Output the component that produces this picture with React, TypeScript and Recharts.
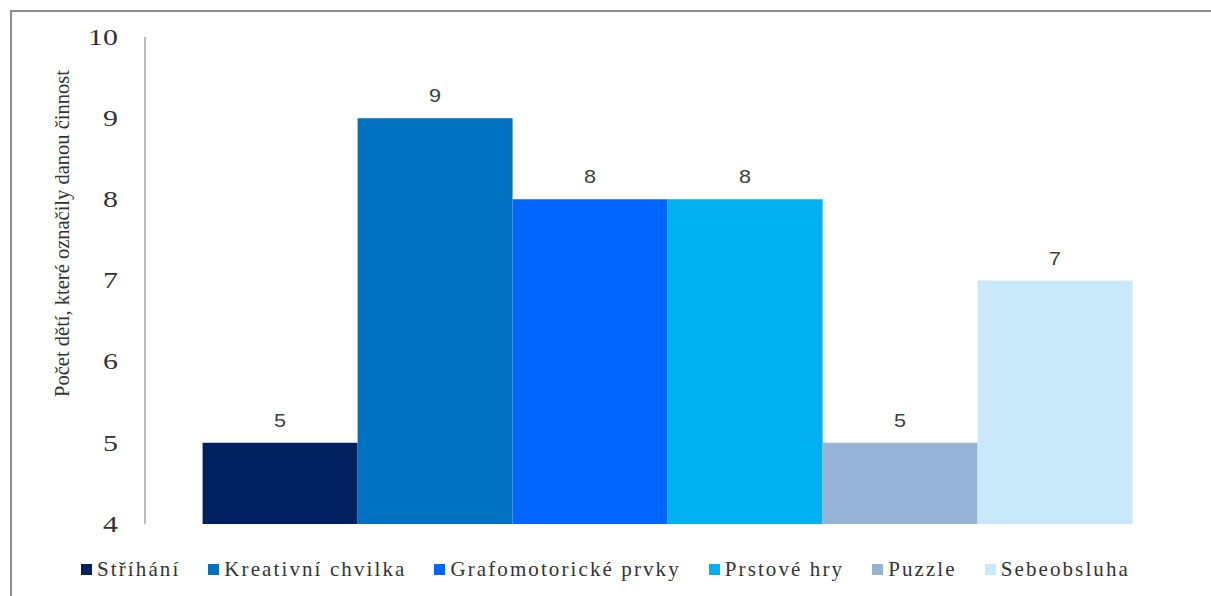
import React from "react"
import { BarChart, Bar, XAxis, YAxis, Legend, LabelList } from "recharts"

// one category, each activity drawn as its own series
const categories = ["Činnosti"]
const seriesNames = ["Stříhání", "Kreativní chvilka", "Grafomotorické prvky", "Prstové hry", "Puzzle", "Sebeobsluha"]
const seriesKeys = ["strihani", "kreativni", "grafomotoricke", "prstove", "puzzle", "sebeobsluha"]
const seriesValues = [5, 9, 8, 8, 5, 7]
const seriesColors = ["#002060", "#0070C0", "#0066FF", "#00B0F0", "#95B3D7", "#C9E8FA"]
const yTicks = [4, 5, 6, 7, 8, 9, 10]
const yLabel = "Počet dětí, které označily danou činnost"

const data = categories.map((name) => {
  const row: Record<string, string | number> = { name }
  seriesKeys.forEach((k, i) => { row[k] = seriesValues[i] })
  return row
})

const SERIF = "'Liberation Serif', 'Times New Roman', serif"
const STRETCH = 1.3

function YTick(props: any) {
  const { x, y, payload } = props
  return (
    <text
      transform={`translate(${x},${y}) scale(${STRETCH},1)`}
      textAnchor="end"
      dominantBaseline="central"
      fontFamily={SERIF}
      fontSize={23}
      fill="#333333"
    >
      {payload.value}
    </text>
  )
}

function YTitle(props: any) {
  const vb = props.viewBox || {}
  const cx = 62
  const cy = vb.y + vb.height / 2 - 47
  return (
    <text
      transform={`translate(${cx},${cy}) rotate(-90)`}
      textAnchor="middle"
      dominantBaseline="central"
      fontFamily={SERIF}
      fontSize={20.5}
      fill="#333333"
    >
      {yLabel}
    </text>
  )
}

function ValueLabel(props: any) {
  const { x, y, width, value } = props
  return (
    <text
      transform={`translate(${x + width / 2},${y - 16}) scale(1.2,1)`}
      textAnchor="middle"
      fontFamily="'Liberation Sans', Arial, sans-serif"
      fontSize={18}
      fill="#404040"
    >
      {value}
    </text>
  )
}

function LegendRow() {
  return (
    <div style={{ display: "flex", justifyContent: "center", gap: 28, fontFamily: SERIF, fontSize: 21, color: "#333333" }}>
      {seriesNames.map((n, i) => (
        <div key={n} style={{ display: "flex", alignItems: "center" }}>
          <span style={{ width: 11, height: 11, background: seriesColors[i], marginRight: 5, display: "inline-block" }} />
          <span style={{ letterSpacing: 2.1 }}>{n}</span>
        </div>
      ))}
    </div>
  )
}

export default function App() {
  return (
    <div style={{ position: "absolute", left: 0, top: 0, width: 1211, height: 596, background: "#fff", overflow: "hidden" }}>
      <div style={{ position: "absolute", left: 10, top: 10, width: 1220, height: 620, borderLeft: "2px solid #8c8c8c", borderTop: "2px solid #8c8c8c", boxSizing: "border-box" }} />
      <BarChart
        width={1211}
        height={596}
        data={data}
        margin={{ top: 37, right: 19, bottom: 72, left: 55 }}
        barGap={0}
        barCategoryGap="5.5%"
      >
        <XAxis dataKey="name" hide />
        <YAxis
          width={90}
          domain={[4, 10]}
          ticks={yTicks}
          allowDataOverflow
          tickSize={0}
          tickMargin={27}
          tick={<YTick />}
          axisLine={{ stroke: "#a6a6a6", strokeWidth: 1.5 }}
          label={{ content: <YTitle /> }}
        />
        <Legend
          verticalAlign="middle"
          align="center"
          layout="horizontal"
          wrapperStyle={{ top: 557, left: 0, width: 1211 }}
          content={() => <LegendRow />}
        />
        {seriesKeys.map((k, i) => (
          <Bar key={k} dataKey={k} name={seriesNames[i]} fill={seriesColors[i]} isAnimationActive={false}>
            <LabelList dataKey={k} content={<ValueLabel />} />
          </Bar>
        ))}
      </BarChart>
    </div>
  )
}
